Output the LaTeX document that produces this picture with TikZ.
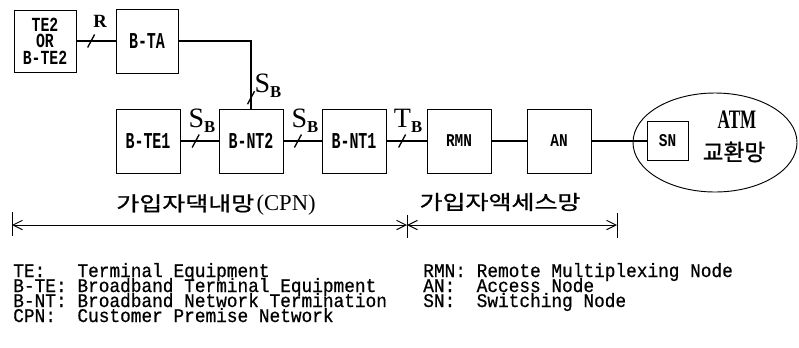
\documentclass[tikz,border=0pt]{standalone}
\usepackage{fontspec}
\setmainfont{Liberation Serif}
\newfontfamily\legfont[FakeStretch=0.92,FakeBold=0.6]{Liberation Mono}
\newfontfamily\boxfont[FakeStretch=0.66]{Liberation Mono}
\newfontfamily\tefont[FakeStretch=0.74]{Liberation Mono}
\newfontfamily\smallbox[FakeStretch=0.8]{Liberation Mono}
\newfontfamily\atmfont[FakeStretch=0.64]{Liberation Serif}
\newfontfamily\kwide[FakeStretch=1.25,FakeBold=1]{Noto Sans CJK KR}
\newfontfamily\knorm[FakeBold=1]{Noto Sans CJK KR}
\usetikzlibrary{arrows.meta,shapes.geometric}
\newcommand\ifc[2]{{\fontsize{21}{21}\selectfont #1}\raisebox{-3.5pt}{\bfseries\fontsize{12.5}{12.5}\selectfont #2}}
\newcommand\lrow[3]{\hbox{\hbox to #1{#2\hss}#3}}
\newcommand\legblock[1]{\vtop{\baselineskip=11.25pt\lineskiplimit=-100pt\lineskip=0pt #1}}
\begin{document}
\begin{tikzpicture}[x=0.75pt,y=-0.75pt,
  box/.style={draw,line width=0.7pt,inner sep=0pt,minimum width=48pt,minimum height=48pt,font=\boxfont\bfseries\fontsize{17}{17}\selectfont},
  sbox/.style={box,font=\smallbox\bfseries\fontsize{13.5}{13.5}\selectfont},
  conn/.style={line width=1.1pt},
  lbl/.style={inner sep=0pt},
  leg/.style={anchor=base west,inner sep=0pt,font=\legfont\fontsize{14.5}{11.25}\selectfont},
  dim/.style={line width=0.75pt},
  tick/.style={line width=0.75pt},
  slash/.pic={\draw[line width=1pt] (-3.5,6.5) -- (3.5,-6.5);}
]
\useasboundingbox (0,0) rectangle (799,347);

% boxes
\node[box,minimum width=46.5pt,minimum height=46.5pt,align=center,font=\tefont\bfseries\fontsize{15}{12.4}\selectfont] (te2) at (45,41) {TE2\\OR\\B-TE2};
\node[box,minimum width=46.5pt] (bta) at (147,41) {B-TA};
\node[box] (bte1) at (148,141) {B-TE1};
\node[box] (bnt2) at (251,141) {B-NT2};
\node[box] (bnt1) at (354,141) {B-NT1};
\node[sbox] (rmn) at (459,141) {RMN};
\node[sbox] (an) at (559,141) {AN};
\node[sbox,minimum width=30.75pt,minimum height=29.25pt] (sn) at (667.5,141) {SN};
\node[ellipse,draw,line width=0.7pt,minimum width=123pt,minimum height=74.25pt,inner sep=0pt] (atm) at (715,142.5) {};

% connectors
\draw[conn] (te2) -- (bta) pic[pos=0.375]{slash};
\coordinate (corner) at (bnt2.north |- bta.east);
\draw[conn] (bta.east) -- (corner) -- (bnt2.north) pic[pos=0.84]{slash};
\draw[conn] (bte1) -- (bnt2) pic[pos=0.4]{slash};
\draw[conn] (bnt2) -- (bnt1) pic[pos=0.38]{slash};
\draw[conn] (bnt1) -- (rmn) pic[pos=0.39]{slash};
\draw[conn] (rmn) -- (an);
\draw[conn] (an) -- (sn);

% interface labels
\node[lbl] (lr) at (100,21) {\bfseries\fontsize{14}{14}\selectfont R};
\node[lbl] (ls1) at (202,121) {\ifc{S}{B}};
\node[lbl] (ls2) at (305,121) {\ifc{S}{B}};
\node[lbl] (lt) at (408,121) {\ifc{T}{B}};
\node[lbl] (ls3) at (268,86) {\ifc{S}{B}};

% ATM network text
\node[lbl,font=\atmfont\bfseries\fontsize{20}{20}\selectfont] (atmt) at (737,120) {ATM};
\node[lbl,font=\knorm\fontsize{17}{17}\selectfont] (kx) at (734,152) {교환망};

% region labels
\node[lbl] (kcpn) at (216,205) {{\kwide\fontsize{15}{15}\selectfont 가입자댁내망}\,{\fontsize{17}{17}\selectfont (CPN)}};
\node[lbl,font=\kwide\fontsize{15}{15}\selectfont] (kacc) at (500,202) {가입자액세스망};

% dimension line
\coordinate (dl) at (12,225);
\coordinate (dm) at (407,225);
\coordinate (dr) at (617,225);
\draw[dim,{Straight Barb[length=7pt,width=7pt]}-{Straight Barb[length=7pt,width=7pt]}] (dl) -- (dm);
\draw[dim,{Straight Barb[length=7pt,width=7pt]}-{Straight Barb[length=7pt,width=7pt]}] (dm) -- (dr);
\draw[tick] (dl) ++(0,-13) -- ++(0,24);
\draw[tick] (dm) ++(0,-10) -- ++(0,23);
\draw[tick] (dr) ++(0,-12) -- ++(0,25);

% legend
\node[leg] (legl) at (13,277) {\legblock{%
  \lrow{48.15pt}{TE:}{Terminal Equipment}
  \lrow{48.15pt}{B-TE:}{Broadband Terminal Equipment}
  \lrow{48.15pt}{B-NT:}{Broadband Network Termination}
  \lrow{48.15pt}{CPN:}{Customer Premise Network}}};
\node[leg] (legr) at (423,277) {\legblock{%
  \lrow{40.1pt}{RMN:}{Remote Multiplexing Node}
  \lrow{40.1pt}{AN:}{Access Node}
  \lrow{40.1pt}{SN:}{Switching Node}}};
\end{tikzpicture}
\end{document}
